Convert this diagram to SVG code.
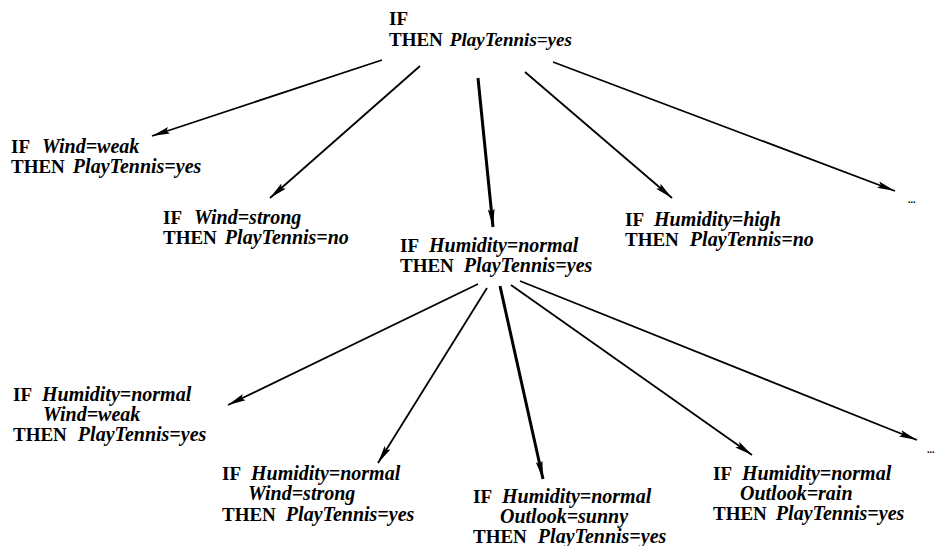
<svg xmlns="http://www.w3.org/2000/svg" width="939" height="546" viewBox="0 0 939 546">
<style>
text{font-family:"Liberation Serif","Times New Roman",serif;font-size:19px;font-weight:bold;fill:#000}
.i{font-style:italic;font-size:20px}
.e{stroke:#000;stroke-width:1.8;fill:none;marker-end:url(#ah)}
.t{stroke:#000;stroke-width:3;fill:none;marker-end:url(#ah)}
.d{font-size:10px}
</style>
<defs>
<marker id="ah" markerUnits="userSpaceOnUse" viewBox="0 0 18 8" refX="18" refY="4" markerWidth="18" markerHeight="8" orient="auto">
<path d="M0,0.6 L18,4 L0,7.4 L3,4 Z" fill="#000"/>
</marker>
</defs>
<rect width="939" height="546" fill="#fff"/>
<g id="connectors">
<line class="e" x1="382" y1="60" x2="152" y2="136"/>
<line class="e" x1="420" y1="66" x2="270" y2="198"/>
<line class="t" x1="478" y1="78" x2="493" y2="227"/>
<line class="e" x1="525" y1="72" x2="672" y2="198"/>
<line class="e" x1="553" y1="62" x2="895" y2="191"/>
<line class="e" x1="478" y1="284" x2="228" y2="405"/>
<line class="e" x1="487" y1="288" x2="378" y2="463"/>
<line class="t" x1="500" y1="286" x2="543" y2="479"/>
<line class="e" x1="511" y1="285" x2="752" y2="455"/>
<line class="e" x1="520" y1="281" x2="917" y2="440"/>
</g>
<g id="n0">
<text x="389" y="25">IF</text>
<text x="389" y="46">THEN<tspan class="i" dx="7" style="font-size:19px">PlayTennis=yes</tspan></text>
</g>
<g id="n1">
<text x="11" y="153">IF<tspan class="i" dx="12">Wind=weak</tspan></text>
<text x="11" y="173">THEN<tspan class="i" dx="8">PlayTennis=yes</tspan></text>
</g>
<g id="n2">
<text x="163" y="224">IF<tspan class="i" dx="12">Wind=strong</tspan></text>
<text x="163" y="244">THEN<tspan class="i" dx="8">PlayTennis=no</tspan></text>
</g>
<g id="n3">
<text x="400" y="252">IF<tspan class="i" dx="10">Humidity=normal</tspan></text>
<text x="400" y="272">THEN<tspan class="i" dx="10">PlayTennis=yes</tspan></text>
</g>
<g id="n4">
<text x="625" y="226">IF<tspan class="i" dx="10">Humidity=high</tspan></text>
<text x="625" y="246">THEN<tspan class="i" dx="11">PlayTennis=no</tspan></text>
</g>
<g id="n5">
<text x="908" y="203" class="d">...</text>
</g>
<g id="n6">
<text x="13" y="401">IF<tspan class="i" dx="10">Humidity=normal</tspan></text>
<text x="43" y="421" class="i">Wind=weak</text>
<text x="13" y="441">THEN<tspan class="i" dx="11">PlayTennis=yes</tspan></text>
</g>
<g id="n7">
<text x="222" y="480">IF<tspan class="i" dx="10">Humidity=normal</tspan></text>
<text x="248" y="500" class="i">Wind=strong</text>
<text x="222" y="521">THEN<tspan class="i" dx="10">PlayTennis=yes</tspan></text>
</g>
<g id="n8">
<text x="473" y="503">IF<tspan class="i" dx="10">Humidity=normal</tspan></text>
<text x="500" y="523" class="i">Outlook=sunny</text>
<text x="473" y="543">THEN<tspan class="i" dx="11">PlayTennis=yes</tspan></text>
</g>
<g id="n9">
<text x="713" y="480">IF<tspan class="i" dx="10">Humidity=normal</tspan></text>
<text x="740" y="500" class="i">Outlook=rain</text>
<text x="713" y="520">THEN<tspan class="i" dx="9">PlayTennis=yes</tspan></text>
</g>
<g id="n10">
<text x="927" y="453" class="d">...</text>
</g>
</svg>
